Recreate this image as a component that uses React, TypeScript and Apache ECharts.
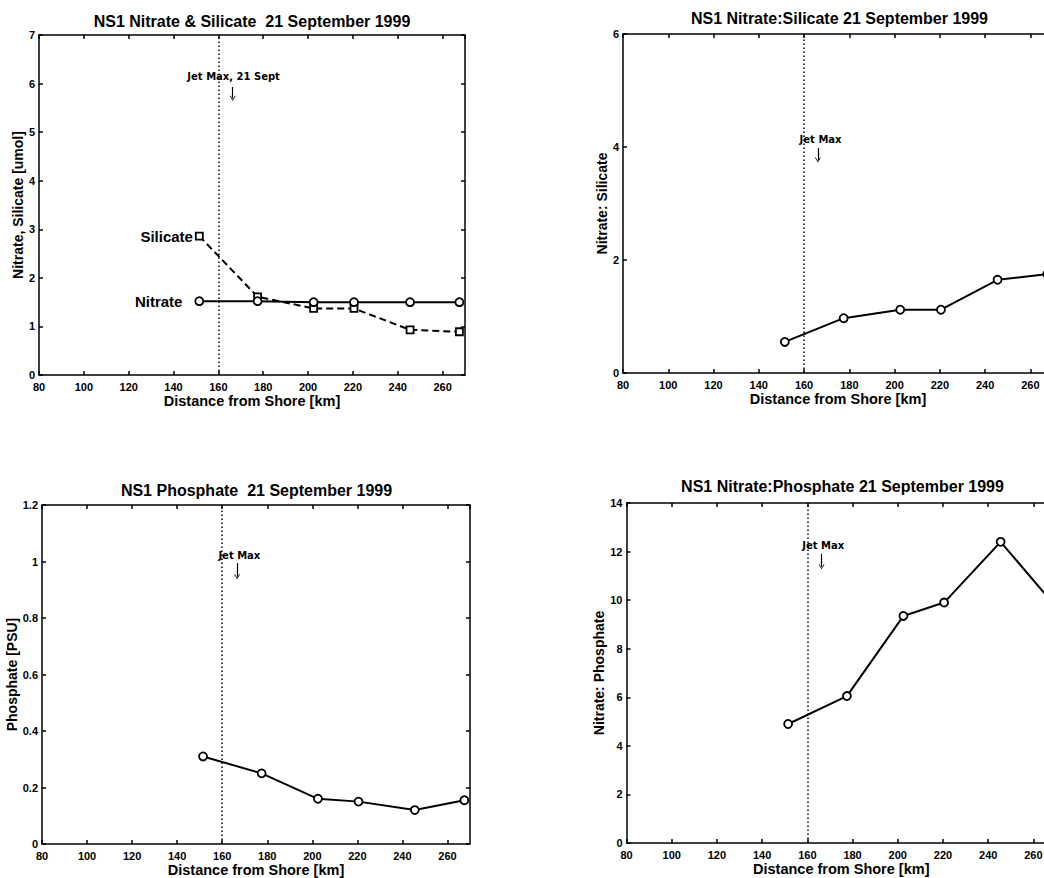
import React, { useEffect, useRef } from "react";
import * as echarts from "echarts";

// Station distances along the NS1 line and the measured nutrients
const distanceKm = [151.5, 177.5, 202.5, 220.5, 245.5, 267.5];
const nitrate = [1.52, 1.52, 1.5, 1.5, 1.5, 1.5];
const silicate = [2.86, 1.61, 1.37, 1.37, 0.93, 0.89];
const phosphate = [0.31, 0.25, 0.16, 0.15, 0.12, 0.155];
const nitrateToSilicate = [0.55, 0.97, 1.12, 1.12, 1.65, 1.75];
const nitrateToPhosphate = [4.9, 6.05, 9.35, 9.9, 12.4, 10.0];

const jetMaxKm = 160;
const xMin = 80;
const xMax = 270;
const xStep = 20;

// Panels: top-left, top-right, bottom-left, bottom-right
const panelTitles = [
  "NS1 Nitrate & Silicate  21 September 1999",
  "NS1 Nitrate:Silicate 21 September 1999",
  "NS1 Phosphate  21 September 1999",
  "NS1 Nitrate:Phosphate 21 September 1999",
];
const yAxisNames = [
  "Nitrate, Silicate [umol]",
  "Nitrate: Silicate",
  "Phosphate [PSU]",
  "Nitrate: Phosphate",
];
const yMaxes = [7, 6, 1.2, 14];
const ySteps = [1, 2, 0.2, 2];
const jetLabels = ["Jet Max, 21 Sept", "Jet Max", "Jet Max", "Jet Max"];

const FONT = '"Liberation Sans", Arial, Helvetica, sans-serif';

// The drawing surface is wider than the visible frame, so the right-hand
// panels run past the frame's right edge and are cut there.
const CHART_W = 1070;
const FRAME_W = 1044;
const FRAME_H = 878;

const grids = [
  { left: 39, right: 605, top: 35, bottom: 503 },
  { left: 623, right: 17, top: 34, bottom: 505 },
  { left: 42, right: 600, top: 505, bottom: 33 },
  { left: 626.5, right: 14, top: 503, bottom: 35 },
];
const titleCenters = [
  [252, 13.5],
  [839.5, 10],
  [256.5, 482],
  [842.5, 478],
];
// Where the "Jet Max" note and its arrow sit, in axis units
const jetNotePlacement = [
  { text: [166.8, 6.14], arrowFrom: [166.4, 5.93], arrowTo: [166.4, 5.7] },
  { text: [167.3, 4.14], arrowFrom: [166.1, 3.98], arrowTo: [166.1, 3.77] },
  { text: [167.6, 1.02], arrowFrom: [166.6, 0.995], arrowTo: [166.6, 0.946] },
  { text: [167.0, 12.24], arrowFrom: [166.3, 11.91], arrowTo: [166.3, 11.37] },
];

const black = "#000";
const axisLineStyle = { color: black, width: 1.5 };
// open arrow head, tip pointing up (markLine rotates it along the line)
const arrowHead = "path://M0,7 L5,0 L10,7 L8.6,7 L5,2 L1.4,7 Z";

function buildXAxes(gridIndex: number) {
  const common = {
    type: "value",
    gridIndex,
    min: xMin,
    max: xMax,
    interval: xStep,
    splitLine: { show: false },
    axisLine: { show: true, onZero: false, lineStyle: axisLineStyle },
    axisTick: { show: true, inside: true, length: 4, lineStyle: axisLineStyle },
  };
  return [
    {
      ...common,
      position: "bottom",
      name: "Distance from Shore [km]",
      nameLocation: "middle",
      nameGap: 18,
      nameTextStyle: { fontFamily: FONT, fontWeight: "bold", fontSize: 14.5, color: black },
      axisLabel: {
        show: true,
        showMaxLabel: false,
        margin: 6,
        fontFamily: FONT,
        fontWeight: "bold",
        fontSize: 11,
        color: black,
      },
    },
    { ...common, position: "top", axisLabel: { show: false } },
  ];
}

function buildYAxes(gridIndex: number) {
  const common = {
    type: "value",
    gridIndex,
    min: 0,
    max: yMaxes[gridIndex],
    interval: ySteps[gridIndex],
    splitLine: { show: false },
    axisLine: { show: true, onZero: false, lineStyle: axisLineStyle },
    axisTick: { show: true, inside: true, length: 4, lineStyle: axisLineStyle },
  };
  return [
    {
      ...common,
      position: "left",
      name: yAxisNames[gridIndex],
      nameLocation: "middle",
      nameGap: 12,
      nameTextStyle: { fontFamily: FONT, fontWeight: "bold", fontSize: 14, color: black },
      axisLabel: {
        show: true,
        margin: 4,
        fontFamily: FONT,
        fontWeight: "bold",
        fontSize: 11,
        color: black,
      },
    },
    { ...common, position: "right", axisLabel: { show: false } },
  ];
}

function points(values: number[], firstLabel?: string, labelDistance = 4) {
  return values.map((v, i) => {
    if (i === 0 && firstLabel) {
      return {
        value: [distanceKm[i], v],
        label: {
          show: true,
          position: "left",
          distance: labelDistance,
          formatter: firstLabel,
          fontFamily: FONT,
          fontWeight: "bold",
          fontSize: 15,
          color: black,
        },
      };
    }
    return [distanceKm[i], v];
  });
}

function jetDecorations(panel: number) {
  const place = jetNotePlacement[panel];
  return {
    markLine: {
      silent: true,
      animation: false,
      label: { show: false },
      data: [
        {
          xAxis: jetMaxKm,
          symbol: "none",
          lineStyle: { color: black, width: 1.5, type: [1.5, 2.5] },
        },
        [
          { coord: place.arrowFrom, symbol: "none" },
          {
            coord: place.arrowTo,
            symbol: arrowHead,
            symbolSize: [6, 5],
            lineStyle: { color: black, width: 1.2, type: "solid" },
            itemStyle: { color: black },
          },
        ],
      ],
      lineStyle: { color: black, width: 1.2, type: "solid" },
      itemStyle: { color: black },
      symbol: "none",
    },
    markPoint: {
      silent: true,
      animation: false,
      symbol: "circle",
      symbolSize: 1,
      itemStyle: { color: "transparent" },
      data: [
        {
          coord: place.text,
          label: {
            show: true,
            position: "inside",
            formatter: jetLabels[panel],
            fontFamily: '"DejaVu Sans", sans-serif',
            fontWeight: "bold",
            fontSize: 10,
            color: black,
          },
        },
      ],
    },
  };
}

function lineSeries(
  panel: number,
  data: any[],
  opts: { dashed?: boolean; square?: boolean; decorate?: boolean }
) {
  return {
    type: "line",
    xAxisIndex: panel * 2,
    yAxisIndex: panel * 2,
    data,
    color: black,
    symbol: opts.square ? "rect" : "circle",
    symbolSize: opts.square ? 7 : 8,
    showAllSymbol: true,
    silent: true,
    lineStyle: { color: black, width: 2, type: opts.dashed ? [7, 4] : "solid" },
    itemStyle: { color: "#fff", borderColor: black, borderWidth: 1.8 },
    emphasis: { disabled: true },
    z: opts.dashed ? 2 : 3,
    ...(opts.decorate ? jetDecorations(panel) : {}),
  };
}

export default function App() {
  const ref = useRef<HTMLDivElement>(null);

  useEffect(() => {
    if (!ref.current) return;
    const chart = echarts.init(ref.current, null, { renderer: "svg" });

    const xAxis: any[] = [];
    const yAxis: any[] = [];
    for (let g = 0; g < 4; g++) {
      xAxis.push(...buildXAxes(g));
      yAxis.push(...buildYAxes(g));
    }

    chart.setOption({
      animation: false,
      backgroundColor: "#fff",
      title: panelTitles.map((text, i) => ({
        text,
        left: titleCenters[i][0],
        top: titleCenters[i][1],
        textAlign: "center",
        padding: 0,
        textStyle: { fontFamily: FONT, fontWeight: "bold", fontSize: 16, color: black },
      })),
      grid: grids,
      xAxis,
      yAxis,
      series: [
        lineSeries(0, points(nitrate, "Nitrate", 12), { decorate: true }),
        lineSeries(0, points(silicate, "Silicate", 2), { dashed: true, square: true }),
        lineSeries(1, points(nitrateToSilicate), { decorate: true }),
        lineSeries(2, points(phosphate), { decorate: true }),
        lineSeries(3, points(nitrateToPhosphate), { decorate: true }),
      ],
    });

    return () => chart.dispose();
  }, []);

  return (
    <div
      style={{
        position: "absolute",
        left: 0,
        top: 0,
        width: FRAME_W,
        height: FRAME_H,
        overflow: "hidden",
        background: "#fff",
      }}
    >
      <div ref={ref} style={{ width: CHART_W, height: FRAME_H }} />
    </div>
  );
}
